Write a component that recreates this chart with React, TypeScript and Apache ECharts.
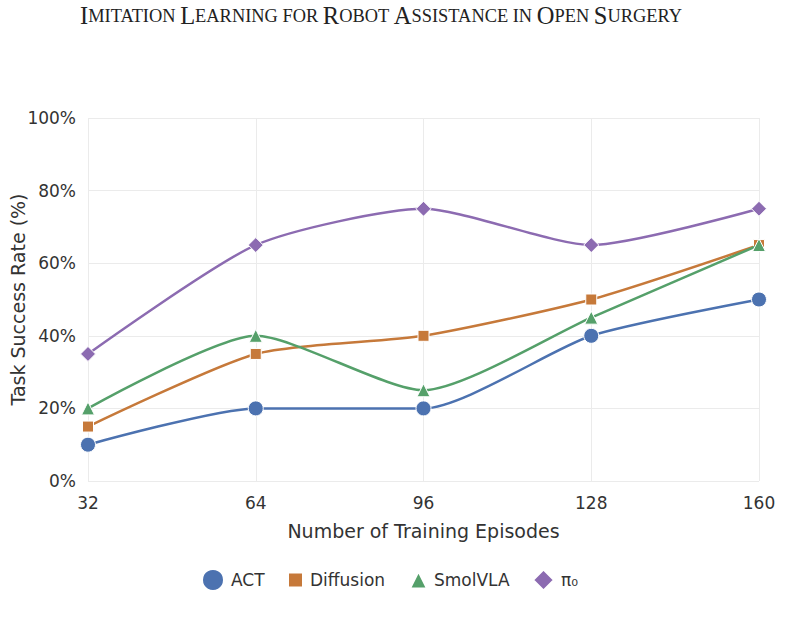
import React, { useEffect, useRef } from "react";
import * as echarts from "echarts";

const episodes = [32, 64, 96, 128, 160];
const seriesNames = ["ACT", "Diffusion", "SmolVLA", "π₀"];
const actValues = [10, 20, 20, 40, 50];
const diffusionValues = [15, 35, 40, 50, 65];
const smolvlaValues = [20, 40, 25, 45, 65];
const pi0Values = [35, 65, 75, 65, 75];
const yTicks = [0, 20, 40, 60, 80, 100];
const titleText = "Imitation Learning for Robot Assistance in Open Surgery";

const colors = ["#4c72b0", "#c6793a", "#55a06a", "#8c6bb1"];
const symbols = ["circle", "rect", "triangle", "diamond"];
const symbolSizes = [15, 11, 13, 15];
const legendSizes = [22, 15, 17, 21];
const legendLefts = [201, 287, 409, 532];

function smallCaps(s: string): string {
  return s
    .split(" ")
    .map((w) => {
      const first = w[0];
      const rest = w.slice(1).toUpperCase();
      if (first === first.toUpperCase()) {
        return `{b|${first}}` + (rest ? `{s|${rest}}` : "");
      }
      return `{s|${w.toUpperCase()}}`;
    })
    .join("{s| }");
}

export default function App() {
  const ref = useRef<HTMLDivElement>(null);
  useEffect(() => {
    if (!ref.current) return;
    const chart = echarts.init(ref.current, null, { renderer: "svg" });
    const data = [actValues, diffusionValues, smolvlaValues, pi0Values];
    const font = "DejaVu Sans";
    chart.setOption({
      animation: false,
      backgroundColor: "#ffffff",
      title: {
        text: smallCaps(titleText),
        left: 75,
        top: -2,
        textStyle: {
          fontWeight: "normal",
          rich: {
            b: { fontFamily: "Liberation Serif", fontSize: 24.5, fontWeight: "normal", color: "#222" },
            s: { fontFamily: "Liberation Serif", fontSize: 18.4, fontWeight: "normal", color: "#222" },
          },
        },
      },
      grid: { left: 88, right: 42, top: 118, bottom: 158, outerBoundsMode: "none", containLabel: false },
      xAxis: {
        type: "value",
        min: 32,
        max: 160,
        interval: 32,
        name: "Number of Training Episodes",
        nameLocation: "middle",
        nameGap: 40,
        nameMoveOverlap: false,
        nameTextStyle: { fontFamily: font, fontSize: 19, color: "#333" },
        axisLine: { show: false },
        axisTick: { show: false },
        axisLabel: { fontFamily: font, fontSize: 17, color: "#333", margin: 13 },
        splitLine: { show: true, lineStyle: { color: "#ebebeb", width: 1 } },
      },
      yAxis: {
        type: "value",
        min: yTicks[0],
        max: yTicks[yTicks.length - 1],
        interval: 20,
        name: "Task Success Rate (%)",
        nameLocation: "middle",
        nameGap: 61,
        nameMoveOverlap: false,
        nameTextStyle: { fontFamily: font, fontSize: 19, color: "#333" },
        axisLine: { show: false },
        axisTick: { show: false },
        axisLabel: { fontFamily: font, fontSize: 17, color: "#333", margin: 12, formatter: "{value}%" },
        splitLine: { show: true, lineStyle: { color: "#ebebeb", width: 1 } },
      },
      legend: seriesNames.map((n, i) => ({
        data: [{ name: n, icon: symbols[i] }],
        left: legendLefts[i],
        top: 579 - legendSizes[i] / 2,
        itemWidth: legendSizes[i],
        itemHeight: legendSizes[i],
        itemGap: 0,
        selectedMode: false,
        textStyle: { fontFamily: font, fontSize: 17, color: "#333", padding: [0, 0, 0, 2] },
        padding: 0,
      })),
      series: seriesNames.map((n, i) => ({
        name: n,
        type: "line",
        smooth: 0.22,
        data: episodes.map((x, j) => [x, data[i][j]]),
        symbol: symbols[i],
        symbolSize: symbolSizes[i],
        showSymbol: true,
        color: colors[i],
        lineStyle: { width: 2.5, color: colors[i] },
        itemStyle: { color: colors[i], borderColor: "#ffffff", borderWidth: 1 },
        z: 2 + i,
      })),
    });
    return () => chart.dispose();
  }, []);
  return (
    <div
      ref={ref}
      style={{ position: "fixed", left: 0, top: 0, width: 801, height: 639 }}
    />
  );
}
